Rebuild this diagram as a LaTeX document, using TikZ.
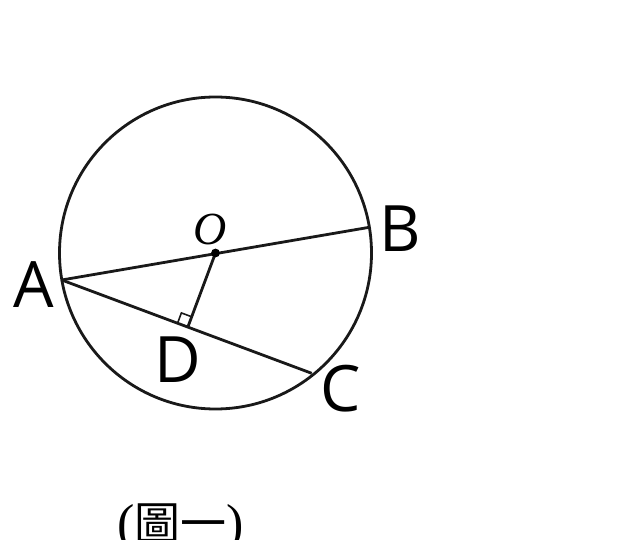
\documentclass[tikz,border=0pt]{standalone}
\usepackage{fontspec}
\setmainfont{Liberation Serif}
\newfontfamily\labfont{Open Sans}
\newfontfamily\cjk{Noto Sans CJK TC}
\usetikzlibrary{calc}
\begin{document}
\begin{tikzpicture}[x=1pt,y=-1pt,
  seg/.style={line width=2.8pt, draw=black!90},
  rightmark/.style={line width=1.6pt, draw=black!90},
  lab/.style={inner sep=0pt, font=\labfont\fontsize{64}{70}\selectfont},
  olab/.style={inner sep=0pt, font=\itshape\fontsize{46}{50}\selectfont}]
\useasboundingbox (0,0) rectangle (624,540);
\coordinate (O) at (215.5,253);
\coordinate (A) at (61.7,280);
\coordinate (B) at (369.3,227.3);
\coordinate (C) at (311.7,373.3);
\coordinate (D) at ($(A)!(O)!(C)$);
\draw[seg] (O) circle[radius=156];
\draw[seg] (A) -- (B);
\draw[seg] (A) -- (C);
\draw[seg] (O) -- (D);
\coordinate (P1) at ($(D)!11pt!(A)$);
\coordinate (P2) at ($(D)!11pt!(O)$);
\coordinate (P3) at ($(P1)+(P2)-(D)$);
\draw[rightmark] (P1) -- (P3) -- (P2);
\fill[black] (O) circle[radius=4.4];
\node[lab] (lA) at (34,285) {A};
\node[lab] (lB) at (400,228.5) {B};
\node[lab] (lC) at (341,389) {C};
\node[lab] (lD) at (178,360) {D};
\node[olab] (lO) at (210,229) {O};
\node[anchor=base west, inner sep=0pt] (cap) at (117,540)
  {{\fontsize{52}{52}\selectfont(}{\cjk\fontsize{46}{46}\selectfont 圖一}{\fontsize{52}{52}\selectfont)}};
\end{tikzpicture}
\end{document}
